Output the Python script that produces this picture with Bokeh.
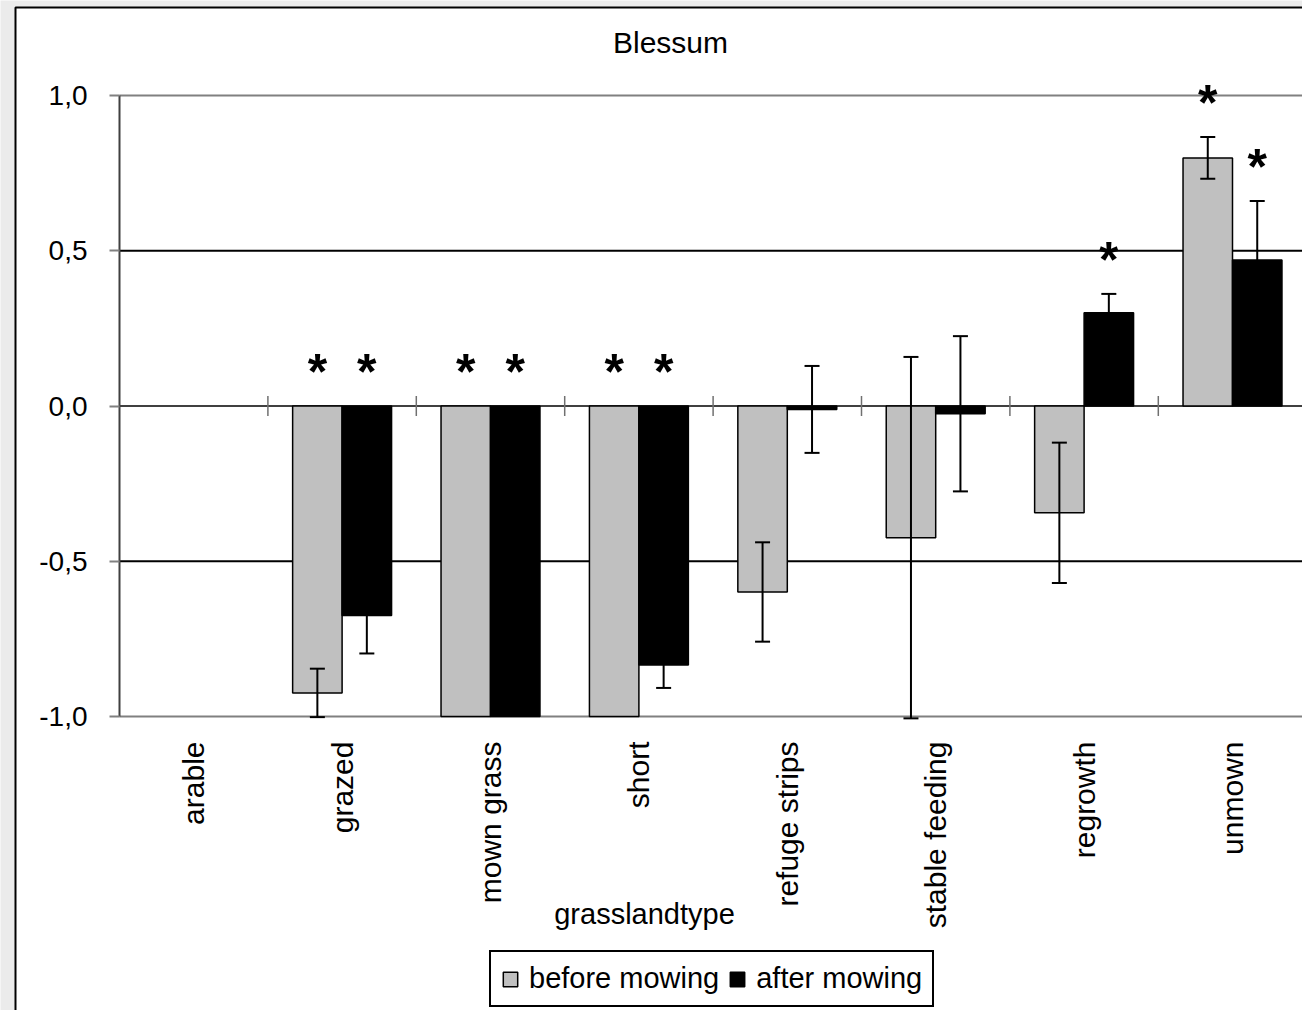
import math
from bokeh.plotting import figure
from bokeh.models import (Range1d, FixedTicker, LinearAxis, CustomJSTickFormatter, Whisker,
                          TeeHead, ColumnDataSource, Legend, LegendItem, Label, LabelSet, BoxAnnotation)
from bokeh.core.properties import value
from bokeh.embed import file_html
from bokeh.resources import INLINE

nan = float("nan")

# ---------------- data ----------------
categories = ["arable", "grazed", "mown grass", "short", "refuge strips",
              "stable feeding", "regrowth", "unmown"]
before_vals = [nan, -0.924, -1.0, -1.0, -0.599, -0.424, -0.344, 0.799]
before_err = [nan, 0.078, 0.0, 0.0, 0.160, 0.582, 0.226, 0.067]
after_vals = [nan, -0.675, -1.0, -0.834, -0.011, -0.025, 0.300, 0.470]
after_err = [nan, 0.122, 0.0, 0.074, 0.140, 0.250, 0.061, 0.190]
before_sig = [False, True, True, True, False, False, False, True]
after_sig = [False, True, True, True, False, False, True, True]
y_ticks = [-1.0, -0.5, 0.0, 0.5, 1.0]
series_labels = ["before mowing", "after mowing"]
title_text = "Blessum"
x_title = "grasslandtype"

# ---------------- layout / style ----------------
FONT = "Liberation Sans"
W, H = 1302, 1010
X0_PX, CAT_PX = 119.0, 148.4          # left edge of plot area, width of one category
Y_TOP_PX, Y_BOT_PX = 95.0, 716.0      # pixel rows of the top and bottom of the value axis
y_min, y_max = min(y_ticks), max(y_ticks)
ppu_y = (Y_BOT_PX - Y_TOP_PX) / (y_max - y_min)
n = len(categories)
bar_w = 1.0 / 3.0
tick_h = 10.0 / ppu_y
star_gap = 0.11


def px_x(px):
    return (px - X0_PX) / CAT_PX


def px_y(py):
    return y_max - (py - Y_TOP_PX) / ppu_y


p = figure(width=W, height=H, x_range=Range1d(px_x(0), px_x(W)), y_range=Range1d(px_y(H), px_y(0)),
           output_backend="svg", toolbar_location=None, x_axis_type=None, y_axis_type=None,
           min_border_left=0, min_border_right=0, min_border_top=0, min_border_bottom=0)
p.outline_line_color = None
p.background_fill_color = "#ebebeb"
p.border_fill_color = "#ebebeb"

outer = BoxAnnotation(left=px_x(15), right=px_x(W + 50), top=px_y(7), bottom=px_y(H + 50),
                      fill_color="white", fill_alpha=1.0, line_color="black", line_alpha=1.0,
                      line_width=2, level="image")
p.add_layout(outer)

# horizontal grid lines across the plot area only
grid_cols = ["#808080" if abs(t) == 1.0 else "black" for t in y_ticks]
grid_w = [1.5 if t == 0 else 2 for t in y_ticks]
p.segment(x0=[0] * len(y_ticks), x1=[n] * len(y_ticks), y0=y_ticks, y1=y_ticks,
          line_color=grid_cols, line_width=grid_w, level="underlay")

# y axis
yaxis = LinearAxis(ticker=FixedTicker(ticks=y_ticks), fixed_location=0, bounds=(y_min, y_max),
                   formatter=CustomJSTickFormatter(code="return tick.toFixed(1).replace('.', ',');"),
                   axis_line_color="#404040", axis_line_width=2,
                   major_tick_out=10, major_tick_in=0, major_tick_line_color="#808080",
                   major_tick_line_width=2, minor_tick_line_color=None,
                   major_label_text_font=FONT, major_label_text_font_size="28px",
                   major_label_text_color="black", major_label_standoff=22)
p.add_layout(yaxis, "left")

# x axis (labels only)
centers = [i + 0.5 for i in range(n)]
xaxis = LinearAxis(ticker=FixedTicker(ticks=centers), fixed_location=y_min,
                   formatter=CustomJSTickFormatter(args=dict(names=categories),
                                                   code="return names[Math.floor(tick)];"),
                   axis_line_color=None, major_tick_line_color=None, minor_tick_line_color=None,
                   major_tick_out=0, major_tick_in=0,
                   major_label_text_font=FONT, major_label_text_font_size="30px",
                   major_label_text_color="black", major_label_standoff=25,
                   major_label_orientation=math.pi / 2)
p.add_layout(xaxis, "below")

# cross ticks on the zero line at category boundaries
bounds = list(range(1, n))
p.segment(x0=bounds, x1=bounds, y0=[-tick_h] * len(bounds), y1=[tick_h] * len(bounds),
          line_color="#707070", line_width=1.5)


def series_source(vals, errs, sigs, offset):
    d = dict(x=[], top=[])
    e = dict(x=[], upper=[], lower=[])
    st = dict(x=[], y=[], t=[])
    for i, (v, er, sg) in enumerate(zip(vals, errs, sigs)):
        if math.isnan(v):
            continue
        x = i + 0.5 + offset
        d["x"].append(x)
        d["top"].append(v)
        if er > 0:
            e["x"].append(x)
            e["upper"].append(v + er)
            e["lower"].append(v - er)
        if sg:
            st["x"].append(x)
            st["y"].append(max(v + er, 0.0) + star_gap)
            st["t"].append("*")
    return ColumnDataSource(d), ColumnDataSource(e), ColumnDataSource(st)


rends = []
for vals, errs, sigs, off, fill in [(before_vals, before_err, before_sig, -bar_w / 2, "#c0c0c0"),
                                    (after_vals, after_err, after_sig, bar_w / 2, "black")]:
    src, esrc, ssrc = series_source(vals, errs, sigs, off)
    r = p.vbar(x="x", top="top", bottom=0, width=bar_w, fill_color=fill, line_color="black",
               line_width=1.5, source=src)
    rends.append(r)
    wk = Whisker(source=esrc, base="x", upper="upper", lower="lower", dimension="height",
                 line_color="black", line_width=2,
                 upper_head=TeeHead(size=15, line_width=2, line_color="black"),
                 lower_head=TeeHead(size=15, line_width=2, line_color="black"),
                 level="annotation")
    p.add_layout(wk)
    ls = LabelSet(source=ssrc, x="x", y="y", text="t", text_font=value(FONT), text_font_style="bold",
                  text_font_size="50px", text_align="center", text_baseline="middle",
                  text_color="black")
    p.add_layout(ls)

legend = Legend(items=[LegendItem(label=series_labels[0], renderers=[rends[0]]),
                       LegendItem(label=series_labels[1], renderers=[rends[1]])],
                orientation="horizontal", location=(489, 3),
                label_text_font=FONT, label_text_font_size="29px", label_text_color="black",
                glyph_width=18, glyph_height=18, label_standoff=10, spacing=9,
                padding=10, margin=0, border_line_color="black", border_line_alpha=1.0,
                border_line_width=2, background_fill_color="white", background_fill_alpha=1.0)
p.add_layout(legend, "center")

p.add_layout(Label(x=px_x(670), y=px_y(42), text=title_text,
                   text_font=FONT, text_font_size="30px", text_align="center",
                   text_baseline="alphabetic", text_color="black"))
p.add_layout(Label(x=px_x(644), y=px_y(913), text=x_title,
                   text_font=FONT, text_font_size="29px", text_align="center",
                   text_baseline="alphabetic", text_color="black"))

open("out.html", "w").write(file_html(p, INLINE))
